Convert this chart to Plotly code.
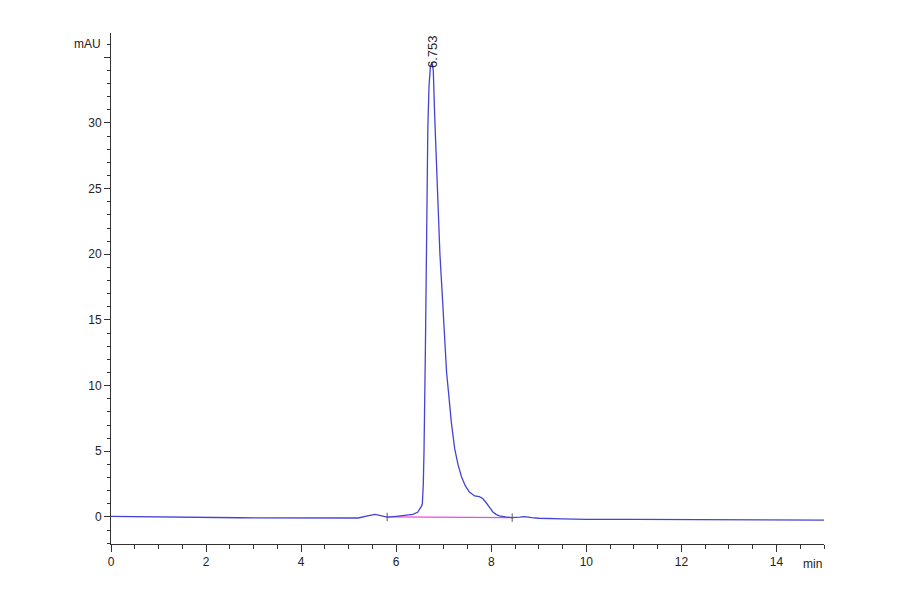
import plotly.graph_objects as go

# Chromatogram (retention time in min, absorbance in mAU)
time_min = [0.0, 0.5, 1.0, 1.5, 2.0, 2.5, 2.7, 3.0, 3.5, 4.0, 4.5, 5.0, 5.2, 5.4, 5.55, 5.65,
            5.75, 5.81, 6.0, 6.2, 6.35, 6.45, 6.5, 6.53, 6.55, 6.57, 6.585, 6.6, 6.615, 6.63,
            6.645, 6.665, 6.69, 6.72, 6.753, 6.78, 6.81, 6.84, 6.88, 6.92, 6.96, 7.0, 7.03,
            7.06, 7.1, 7.16, 7.23, 7.3, 7.37, 7.45, 7.54, 7.65, 7.75, 7.82, 7.89, 7.96, 8.03,
            8.1, 8.17, 8.3, 8.44, 8.6, 8.7, 8.85, 9.0, 9.5, 10.0, 11.0, 12.0, 13.0, 14.0, 15.0]
absorbance = [0.05, 0.04, 0.03, 0.02, 0.0, -0.02, -0.06, -0.07, -0.08, -0.1, -0.12, -0.12,
              -0.08, 0.08, 0.2, 0.12, 0.0, -0.02, 0.05, 0.12, 0.2, 0.35, 0.6, 0.8, 1.0, 2.5,
              5.0, 8.0, 13.0, 18.0, 24.0, 29.5, 32.8, 34.3, 34.6, 34.0, 30.5, 27.5, 23.5, 20.0,
              17.5, 15.0, 12.8, 11.0, 9.5, 7.2, 5.2, 4.0, 3.1, 2.4, 1.9, 1.6, 1.55, 1.4, 1.1,
              0.7, 0.4, 0.2, 0.08, 0.0, -0.05, -0.02, 0.02, -0.05, -0.1, -0.15, -0.18, -0.18,
              -0.19, -0.2, -0.23, -0.24]

# Integration baseline
baseline_x = [5.81, 8.44]
baseline_y = [0.0, -0.05]

# Peak label
peak_rt = 6.753
peak_height = 34.6
peak_label = "6.753"

x_tickvals = [0, 2, 4, 6, 8, 10, 12, 14]
y_tickvals = [0, 5, 10, 15, 20, 25, 30, 35]
y_ticktext = ["0", "5", "10", "15", "20", "25", "30", ""]

FONT = "Liberation Sans, Arial, sans-serif"

fig = go.Figure()
fig.add_trace(go.Scatter(x=baseline_x, y=baseline_y, mode="lines",
                         line=dict(color="#f048e8", width=1.3), hoverinfo="skip"))
fig.add_trace(go.Scatter(x=time_min, y=absorbance, mode="lines",
                         line=dict(color="#4444d4", width=1.3)))
fig.add_trace(go.Scatter(x=baseline_x, y=baseline_y, mode="markers",
                         marker=dict(symbol="line-ns", size=6,
                                     line=dict(color="#555555", width=1)),
                         hoverinfo="skip"))

fig.add_annotation(x=peak_rt, y=peak_height, text=peak_label, textangle=-90,
                   showarrow=False, xanchor="center", yanchor="bottom", yshift=-7,
                   font=dict(family=FONT, size=13, color="#222222"))
fig.add_annotation(x=0, y=36, xref="x", yref="y", text="mAU", showarrow=False,
                   xanchor="right", yanchor="middle", xshift=-8,
                   font=dict(family=FONT, size=12, color="#222222"))
fig.add_annotation(x=15, y=0, xref="x", yref="paper", text="min", showarrow=False,
                   xanchor="right", yanchor="top", yshift=-11,
                   font=dict(family=FONT, size=12, color="#222222"))

fig.update_layout(
    width=900, height=594,
    margin=dict(l=103, r=84, t=25, b=58),
    paper_bgcolor="white", plot_bgcolor="white",
    showlegend=False,
    font=dict(family=FONT, size=12, color="#222222"),
)
fig.update_xaxes(range=[0, 15], tickvals=x_tickvals, showgrid=False, zeroline=False,
                 showline=True, linecolor="#333333", linewidth=1,
                 ticks="outside", ticklen=7, tickcolor="#333333",
                 minor=dict(dtick=0.5, tick0=0, ticks="outside", ticklen=4,
                            tickcolor="#333333", showgrid=False),
                 tickfont=dict(size=12))
fig.update_yaxes(range=[-2.06, 36.85], tickvals=y_tickvals, ticktext=y_ticktext,
                 showgrid=False, zeroline=False,
                 showline=True, linecolor="#333333", linewidth=1,
                 ticks="outside", ticklen=6, tickcolor="#333333",
                 minor=dict(dtick=1, tick0=0, ticks="outside", ticklen=3,
                            tickcolor="#333333", showgrid=False),
                 tickfont=dict(size=12))

fig.write_html("out.html")
